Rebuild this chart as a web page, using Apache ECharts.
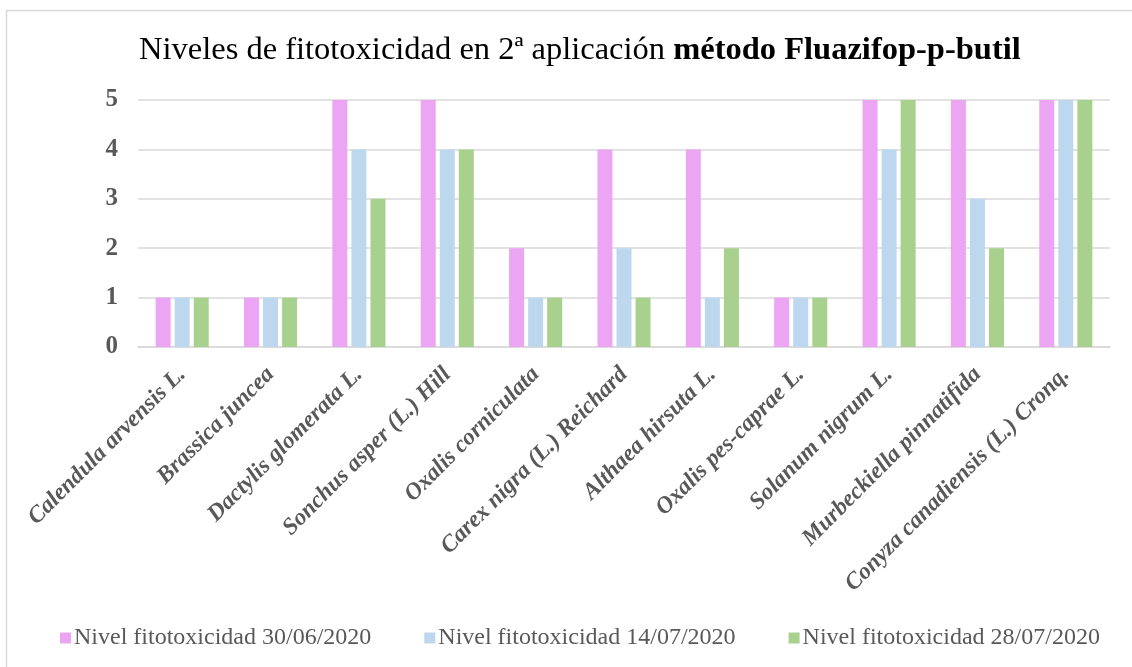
<!DOCTYPE html>
<html><head><meta charset="utf-8">
<script src="https://cdn.jsdelivr.net/npm/echarts@6/dist/echarts.min.js"></script>
<style>html,body{margin:0;padding:0;background:#fff}#c{width:1132px;height:667px}</style>
</head><body><div id="c"></div>
<script>
const categories = ["Calendula arvensis L.","Brassica juncea","Dactylis glomerata L.","Sonchus asper (L.) Hill","Oxalis corniculata","Carex nigra (L.) Reichard","Althaea hirsuta L.","Oxalis pes-caprae L.","Solanum nigrum L.","Murbeckiella pinnatifida","Conyza canadiensis (L.) Cronq."];
const seriesNames = ["Nivel fitotoxicidad 30/06/2020","Nivel fitotoxicidad 14/07/2020","Nivel fitotoxicidad 28/07/2020"];
const nivel3006 = [1,1,5,5,2,4,4,1,5,5,5];
const nivel1407 = [1,1,4,4,1,2,1,1,4,3,5];
const nivel2807 = [1,1,3,4,1,1,2,1,5,2,5];
const colors = ["#EBA5F2","#BDD7EE","#A9D18E"];
const font = "'Liberation Serif','Times New Roman',serif";
const chart = echarts.init(document.getElementById('c'), null, {renderer:'canvas'});
const data = [nivel3006, nivel1407, nivel2807];
chart.setOption({
  animation:false,
  backgroundColor:'#fff',
  graphic:[{type:'rect',shape:{x:6.5,y:10.5,width:1200,height:800},style:{fill:'none',stroke:'#D9D9D9',lineWidth:1.5},silent:true,z:-1}],
  title:{
    text:'{n|Niveles de fitotoxicidad en 2ª aplicación }{b|método Fluazifop-p-butil}',
    left:134, top:29,
    textStyle:{fontWeight:'normal',rich:{
      n:{fontFamily:font,fontSize:32.5,fontWeight:'normal',color:'#000'},
      b:{fontFamily:font,fontSize:32.5,fontWeight:'bold',color:'#000'}
    }}
  },
  legend:{
    bottom:12, left:55,
    itemWidth:11, itemHeight:11, itemGap:53,
    icon:'rect',
    textStyle:{fontFamily:font,fontSize:24,color:'#595959',padding:[0,0,0,-2]},
    data:seriesNames
  },
  grid:{left:138,right:22,top:100,bottom:320,containLabel:false},
  xAxis:{
    type:'category', data:categories,
    axisLine:{lineStyle:{color:'#D9D9D9',width:1.5}},
    axisTick:{show:false},
    axisLabel:{interval:0,rotate:45,margin:24,fontFamily:font,fontSize:23.5,fontWeight:'bold',fontStyle:'italic',color:'#595959'}
  },
  yAxis:{
    type:'value', min:0, max:5, interval:1,
    axisLine:{show:false}, axisTick:{show:false},
    splitLine:{lineStyle:{color:'#D9D9D9',width:1.5}},
    axisLabel:{margin:20,fontFamily:font,fontSize:25,fontWeight:'bold',color:'#595959'}
  },
  series: seriesNames.map((n,i)=>({
    name:n, type:'bar', data:data[i], barWidth:15, barGap:'27%',
    itemStyle:{color:colors[i]}
  }))
});
</script></body></html>
